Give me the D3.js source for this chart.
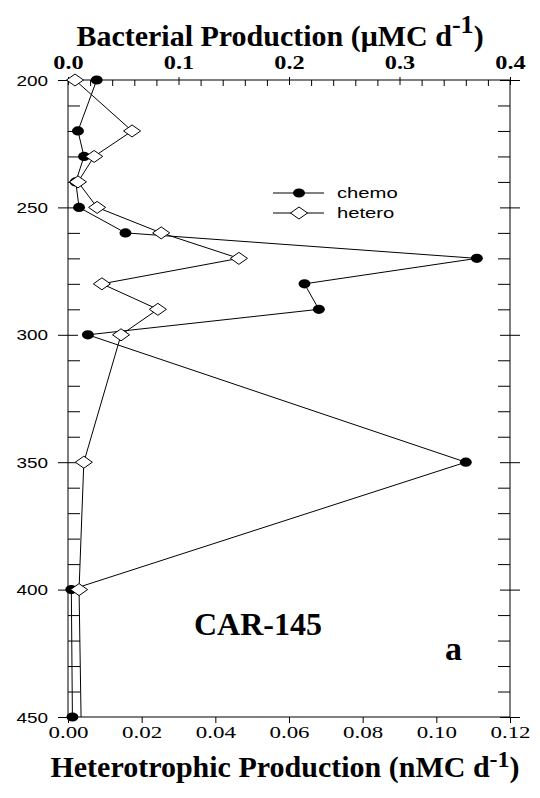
<!DOCTYPE html>
<html>
<head>
<meta charset="utf-8">
<script src="https://cdn.jsdelivr.net/npm/d3@7"></script>
<style>
body { margin: 0; background: #fff; }
</style>
</head>
<body>
<script>
"use strict";

(function() {

// values
let chemoDepths  = [200, 220, 230, 240, 250, 260, 270, 280, 290, 300, 350, 400, 450];
let chemoValues  = [0.026, 0.009, 0.0145, 0.007, 0.010, 0.052, 0.37, 0.214, 0.227, 0.018, 0.36, 0.003, 0.004];
let heteroDepths = [200, 220, 230, 240, 250, 260, 270, 280, 290, 300, 350, 400, 500];
let heteroValues = [0.0019, 0.0174, 0.0071, 0.0027, 0.0079, 0.0253, 0.0464, 0.0092, 0.0244, 0.0144, 0.0043, 0.0030, 0.0041];
let seriesNames  = ['chemo', 'hetero'];
let topTicks     = [0.0, 0.1, 0.2, 0.3, 0.4];
let bottomTicks  = [0.00, 0.02, 0.04, 0.06, 0.08, 0.10, 0.12];
let depthTicks   = [200, 250, 300, 350, 400, 450];

let margins = {top: 80, right: 30, bottom: 81, left: 68};
let width = 540 - margins.left - margins.right;
let height = 798 - margins.top - margins.bottom;
let stretch = 1.35;   // the original figure is squeezed wide
let serif = "'Liberation Serif', 'Times New Roman', serif";
let sans = "'Liberation Sans', Arial, sans-serif";

let root = d3.select('body')
    .append('svg')
    .attr('width', 540)
    .attr('height', 798);

let svg = root.append('g')
    .attr('transform', 'translate(' + margins.left + ',' + margins.top + ')');

let xTop = d3.scaleLinear().domain([0, 0.4]).range([0, width]);
let xBottom = d3.scaleLinear().domain([0, 0.12]).range([0, width]);
let y = d3.scaleLinear().domain([200, 450]).range([0, height]);

let chemo = chemoDepths.map(function(d, i) { return {depth: d, v: chemoValues[i]}; });
let hetero = heteroDepths.map(function(d, i) { return {depth: d, v: heteroValues[i]}; });

// ---- axes ----
function styleAxis(g) {
    g.select('.domain').remove();
    g.selectAll('.tick line').attr('stroke', '#000').attr('stroke-width', 1);
}

let minorDepths = d3.range(200, 451, 10).filter(function(d) { return d % 50 !== 0; });
let minorTop = d3.range(1, 20).filter(function(i) { return i % 5 !== 0; }).map(function(i) { return i * 0.02; });

// left
svg.append('g')
    .call(d3.axisLeft(y).tickValues(minorDepths).tickSize(-12).tickFormat(''))
    .call(styleAxis);
let leftAxis = svg.append('g')
    .call(d3.axisLeft(y).tickValues(depthTicks).tickSize(10).tickPadding(0))
    .call(styleAxis);
leftAxis.selectAll('.tick line').attr('x1', 10);
leftAxis.selectAll('.tick text')
    .attr('x', null)
    .attr('dy', '0.36em')
    .attr('transform', 'translate(-20,0) scale(' + stretch + ',1)')
    .attr('font-family', sans)
    .attr('font-size', 14)
    .attr('fill', '#000');

// right
svg.append('g')
    .attr('transform', 'translate(' + width + ',0)')
    .call(d3.axisRight(y).tickValues(minorDepths).tickSize(-12).tickFormat(''))
    .call(styleAxis);
let rightAxis = svg.append('g')
    .attr('transform', 'translate(' + width + ',0)')
    .call(d3.axisRight(y).tickValues(depthTicks).tickSize(10).tickFormat(''))
    .call(styleAxis);
rightAxis.selectAll('.tick line').attr('x1', -10);

// top
svg.append('g')
    .call(d3.axisTop(xTop).tickValues(minorTop).tickSize(-6).tickFormat(''))
    .call(styleAxis);
let topAxis = svg.append('g')
    .call(d3.axisTop(xTop).tickValues(topTicks).tickSize(3).tickFormat(d3.format('.1f')))
    .call(styleAxis);
topAxis.selectAll('.tick line').attr('y1', 5);
topAxis.selectAll('.tick text')
    .attr('y', null)
    .attr('dy', null)
    .attr('transform', 'translate(0,-11) scale(' + stretch + ',1)')
    .attr('font-family', serif)
    .attr('font-weight', 'bold')
    .attr('font-size', 18)
    .attr('fill', '#000');

// bottom
let bottomAxis = svg.append('g')
    .attr('transform', 'translate(0,' + height + ')')
    .call(d3.axisBottom(xBottom).tickValues(bottomTicks).tickSize(6).tickFormat(d3.format('.2f')))
    .call(styleAxis);
bottomAxis.selectAll('.tick text')
    .attr('y', null)
    .attr('dy', null)
    .attr('transform', 'translate(0,21) scale(' + stretch + ',1)')
    .attr('font-family', serif)
    .attr('font-size', 17)
    .attr('fill', '#000');

// frame
svg.append('rect')
    .attr('width', width)
    .attr('height', height)
    .attr('fill', 'none')
    .attr('stroke', '#000')
    .attr('stroke-width', 1);

// ---- data ----
svg.append('clipPath').attr('id', 'plotClip')
    .append('rect').attr('width', width).attr('height', height);

let plot = svg.append('g').attr('clip-path', 'url(#plotClip)');

let chemoLine = d3.line()
    .x(function(d) { return xTop(d.v); })
    .y(function(d) { return y(d.depth); });
let heteroLine = d3.line()
    .x(function(d) { return xBottom(d.v); })
    .y(function(d) { return y(d.depth); });

plot.append('path').datum(chemo)
    .attr('d', chemoLine)
    .attr('fill', 'none').attr('stroke', '#000').attr('stroke-width', 1);
plot.append('path').datum(hetero)
    .attr('d', heteroLine)
    .attr('fill', 'none').attr('stroke', '#000').attr('stroke-width', 1);

let circleSym = d3.symbol().type(d3.symbolCircle).size(Math.PI * 4.6 * 4.6);
let diamondSym = d3.symbol().type(d3.symbolDiamond2).size(Math.pow(6 / 0.62625, 2));

svg.selectAll('.chemo')
    .data(chemo)
    .enter()
    .append('path')
    .attr('class', 'chemo')
    .attr('d', circleSym)
    .attr('transform', function(d) { return 'translate(' + xTop(d.v) + ',' + y(d.depth) + ') scale(1.3,1)'; })
    .attr('fill', '#000');

svg.selectAll('.hetero')
    .data(hetero.filter(function(d) { return d.depth <= 450; }))
    .enter()
    .append('path')
    .attr('class', 'hetero')
    .attr('d', diamondSym)
    .attr('transform', function(d) { return 'translate(' + xBottom(d.v) + ',' + y(d.depth) + ') scale(1.42,1)'; })
    .attr('fill', '#fff')
    .attr('stroke', '#000')
    .attr('stroke-width', 1)
    .attr('vector-effect', 'non-scaling-stroke');

// ---- legend ----
let legend = root.append('g').attr('transform', 'translate(273,193)');
let legendRows = legend.selectAll('.row')
    .data(seriesNames)
    .enter()
    .append('g')
    .attr('class', 'row')
    .attr('transform', function(d, i) { return 'translate(0,' + i * 20 + ')'; });
legendRows.append('line')
    .attr('x1', 0).attr('x2', 51)
    .attr('stroke', '#000').attr('stroke-width', 1);
legendRows.append('path')
    .attr('d', function(d, i) { return i === 0 ? circleSym() : diamondSym(); })
    .attr('transform', function(d, i) { return 'translate(26,0) scale(' + (i === 0 ? 1.3 : 1.42) + ',1)'; })
    .attr('fill', function(d, i) { return i === 0 ? '#000' : '#fff'; })
    .attr('stroke', '#000')
    .attr('stroke-width', function(d, i) { return i === 0 ? 0 : 1; })
    .attr('vector-effect', 'non-scaling-stroke');
legendRows.append('text')
    .attr('transform', 'translate(64,0) scale(' + stretch + ',1)')
    .attr('dy', '0.35em')
    .attr('font-family', sans)
    .attr('font-size', 15)
    .text(function(d) { return d; });

// ---- titles ----
let topTitle = root.append('text')
    .attr('x', 280).attr('y', 46)
    .attr('text-anchor', 'middle')
    .attr('font-family', serif)
    .attr('font-weight', 'bold')
    .attr('font-size', 30);
topTitle.append('tspan').text('Bacterial Production (\u03bcMC d');
topTitle.append('tspan').attr('dy', -13).attr('font-size', 26).text('-1');
topTitle.append('tspan').attr('dy', 13).text(')');

let bottomTitle = root.append('text')
    .attr('x', 285).attr('y', 777)
    .attr('text-anchor', 'middle')
    .attr('font-family', serif)
    .attr('font-weight', 'bold')
    .attr('font-size', 30);
bottomTitle.append('tspan').text('Heterotrophic Production (nMC d');
bottomTitle.append('tspan').attr('dy', -10).attr('font-size', 24).text('-1');
bottomTitle.append('tspan').attr('dy', 10).text(')');

root.append('text')
    .attr('x', 258).attr('y', 635)
    .attr('text-anchor', 'middle')
    .attr('font-family', serif)
    .attr('font-weight', 'bold')
    .attr('font-size', 32)
    .text('CAR-145');

root.append('text')
    .attr('x', 445).attr('y', 660)
    .attr('font-family', serif)
    .attr('font-weight', 'bold')
    .attr('font-size', 34)
    .text('a');

})();
</script>
</body>
</html>
